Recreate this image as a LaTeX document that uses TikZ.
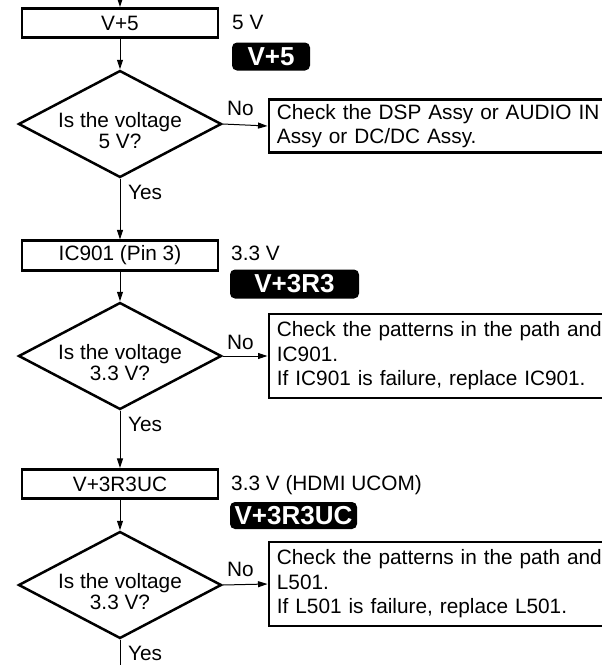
\documentclass[tikz,border=0pt]{standalone}
\usepackage{fontspec}
\setmainfont{Liberation Sans}
\usetikzlibrary{shapes.geometric,arrows.meta}
\begin{document}
\begin{tikzpicture}[x=1pt,y=-1pt,
  every node/.style={font=\fontsize{20.8}{24.5}\selectfont},
  box/.style={draw,line width=2.8pt,minimum width=196,minimum height=29.5,inner sep=0},
  dia/.style={draw,diamond,line width=2.5pt,minimum width=203,minimum height=107,inner sep=0},
  qtext/.style={align=center,inner sep=0,font=\fontsize{20.8}{20.5}\selectfont},
  chk/.style={draw,line width=2.8pt,anchor=west,text width=340,align=left,inner xsep=8,inner ysep=0},
  badge/.style={fill=black,rounded corners=5pt,text=white,font=\fontsize{26}{26}\selectfont\bfseries,minimum height=28,inner sep=0},
  lbl/.style={anchor=base west,inner sep=0},
  conn/.style={line width=1pt,-{Triangle[length=9.5pt,width=6pt]}},
  plain/.style={line width=1pt},
]
\useasboundingbox (0,0) rectangle (602,665);
\clip (0,0) rectangle (602,665);

% block 1
\coordinate (top) at (120,-2);
\node[box] (b1) at (120,23) {V+5};
\node[lbl] (l1) at (232,29) {5 V};
\node[badge,minimum width=78] (g1) at (271,56.5) {V+5};
\node[dia] (d1) at (120,124) {};
\node[qtext] (q1) at (120,130.5) {Is the voltage\\5 V?};
\node[chk,minimum height=53] (c1) at (267.5,126) {Check the DSP Assy or AUDIO IN\\Assy or DC/DC Assy.};
\node[lbl] (n1) at (227,115.5) {No};
\node[lbl] (y1) at (128,199.5) {Yes};

% block 2
\node[box] (b2) at (120,255.5) {IC901 (Pin 3)};
\node[lbl] (l2) at (231,260) {3.3 V};
\node[badge,minimum width=129,minimum height=29] (g2) at (294.5,284) {V+3R3};
\node[dia] (d2) at (120,356) {};
\node[qtext] (q2) at (120,362.5) {Is the voltage\\3.3 V?};
\node[chk,minimum height=84] (c2) at (267.5,356) {Check the patterns in the path and\\IC901.\\If IC901 is failure, replace IC901.};
\node[lbl] (n2) at (227,349) {No};
\node[lbl] (y2) at (128,431) {Yes};

% block 3
\node[box] (b3) at (120,484) {V+3R3UC};
\node[lbl] (l3) at (231,490) {3.3 V (HDMI UCOM)};
\node[badge,minimum width=127,minimum height=27] (g3) at (293.5,515.5) {V+3R3UC};
\node[dia] (d3) at (120,585) {};
\node[qtext] (q3) at (120,591.5) {Is the voltage\\3.3 V?};
\node[chk,minimum height=84] (c3) at (267.5,584) {Check the patterns in the path and\\L501.\\If L501 is failure, replace L501.};
\node[lbl] (n3) at (227,576) {No};
\node[lbl] (y3) at (128,660) {Yes};
\coordinate (bot) at (120,670);

% connectors
\draw[conn] (top) -- (b1.north);
\draw[conn] (b1.south) -- (d1.north);
\draw[conn] (d1.east) -- (c1.west);
\draw[conn] (d1.south) -- (b2.north);
\draw[conn] (b2.south) -- (d2.north);
\draw[conn] (d2.east) -- (c2.west);
\draw[conn] (d2.south) -- (b3.north);
\draw[conn] (b3.south) -- (d3.north);
\draw[conn] (d3.east) -- (c3.west);
\draw[plain] (d3.south) -- (bot);
\end{tikzpicture}
\end{document}
